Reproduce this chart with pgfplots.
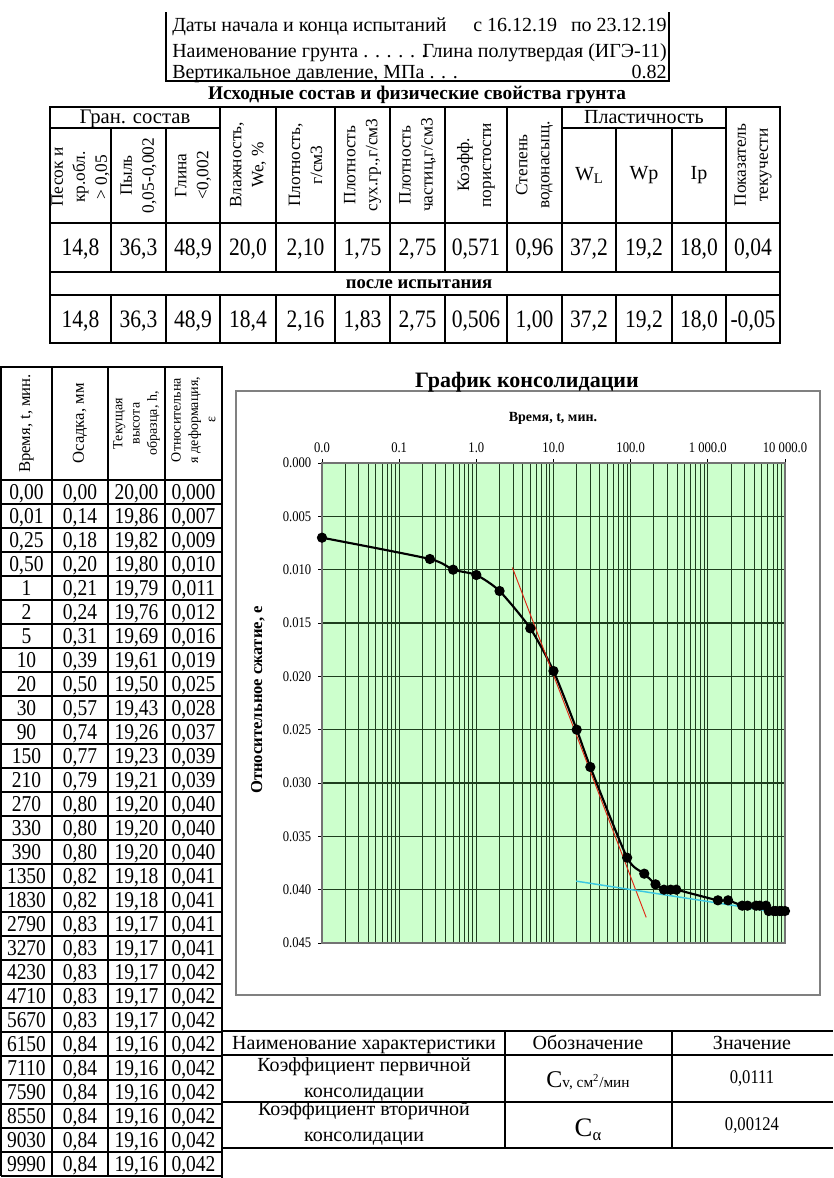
\documentclass[border=0pt]{standalone}
\usepackage{pgfplots}
\pgfplotsset{compat=1.18}
\usepackage{fontspec}
\setmainfont{Liberation Serif}
\newfontfamily\numf[FakeStretch=0.86]{Liberation Serif}
\definecolor{bgG}{RGB}{204,255,204}
\definecolor{gridG}{RGB}{30,62,30}
\definecolor{cyanL}{RGB}{60,200,225}
\definecolor{redL}{RGB}{225,40,20}
\newcommand{\fs}[2]{\fontsize{#1}{#2}\selectfont}
\begin{document}
\begin{tikzpicture}
\begin{scope}[x=0.75pt,y=-0.75pt]
\useasboundingbox (0,0) rectangle (833,1178);
% ---------- top box ----------
\draw[line width=1.5pt] (166,12) -- (166,81) -- (669,81) -- (669,12);
\begin{scope}[every node/.style={inner sep=0pt,font=\fs{15}{17}}]
\node[anchor=base west] at (172,31) {Даты начала и конца испытаний};
\node[anchor=base west] at (473,31) {с 16.12.19};
\node[anchor=base east] at (667,31) {по 23.12.19};
\node[anchor=base west] at (172,57) {Наименование грунта . . . . . .};
\node[anchor=base east] at (667,57) {Глина полутвердая (ИГЭ-11)};
\node[anchor=base west] at (172,78) {Вертикальное давление, МПа . . .};
\node[anchor=base east] at (667,78) {0.82};
\end{scope}
\node[anchor=base,inner sep=0pt,font=\bfseries\fs{14.5}{17}] at (417,99) {Исходные состав и физические свойства грунта};
% ---------- properties table ----------
\draw[line width=1.5pt] (50,107) rectangle (780,343);
\foreach \yy in {223,272,295} \draw[line width=1.1pt] (50,\yy) -- (780,\yy);
\draw[line width=1.1pt] (50,128) -- (220,128);
\draw[line width=1.1pt] (562,128) -- (726,128);
\foreach \xx in {111,166,616,672} {\draw[line width=1.1pt] (\xx,128) -- (\xx,272); \draw[line width=1.1pt] (\xx,295) -- (\xx,343);}
\foreach \xx in {220,276,335,390,445,507,562,726} {\draw[line width=1.1pt] (\xx,107) -- (\xx,272); \draw[line width=1.1pt] (\xx,295) -- (\xx,343);}
\node[anchor=base,inner sep=0pt,font=\fs{15.5}{17}] at (135,123) {Гран. состав};
\node[anchor=base,inner sep=0pt,font=\fs{15}{17}] at (644,123) {Пластичность};
\begin{scope}[every node/.style={rotate=90,align=center,inner sep=0pt,font=\fs{13}{16.5}}]
\begin{scope}\clip (50,129) rectangle (111,222);
\node at (80.5,177) {Песок и\\кр.обл.\\> 0,05};\end{scope}
\node at (138.5,175.5) {Пыль\\0,05-0,002};
\node at (193,175.5) {Глина\\<0,002};
\node at (248,165) {Влажность,\\We, \%};
\node at (305.5,165) {Плотность,\\г/см3};
\node at (362.5,165) {Плотность\\сух.гр.,г/см3};
\node at (417.5,165) {Плотность\\частиц,г/см3};
\node at (476,165) {Коэфф.\\пористости};
\node at (534.5,165) {Степень\\водонасыщ.};
\node at (753,165) {Показатель\\текучести};
\end{scope}
\node[inner sep=0pt,font=\fs{15}{17}] at (589,175.5) {W\raisebox{-2.5pt}{\fs{11}{11}L}};
\node[inner sep=0pt,font=\fs{15}{17}] at (644,175.5) {Wp};
\node[inner sep=0pt,font=\fs{15}{17}] at (699,175.5) {Ip};
\foreach \xx/\va/\vb in {80.5/14{,}8/14{,}8, 138.5/36{,}3/36{,}3, 193/48{,}9/48{,}9, 248/20{,}0/18{,}4, 305.5/2{,}10/2{,}16, 362.5/1{,}75/1{,}83, 417.5/2{,}75/2{,}75, 476/0{,}571/0{,}506, 534.5/0{,}96/1{,}00, 589/37{,}2/37{,}2, 644/19{,}2/19{,}2, 699/18{,}0/18{,}0, 753/0{,}04/-0{,}05}
{\node[anchor=base,inner sep=0pt,font=\numf\fs{18.8}{20}] at (\xx,255) {\va};
 \node[anchor=base,inner sep=0pt,font=\numf\fs{18.8}{20}] at (\xx,327) {\vb};}
\node[anchor=base,inner sep=0pt,font=\bfseries\fs{14}{15}] at (419,288.5) {после испытания};
% ---------- left table ----------
\draw[line width=1.5pt] (1,367) rectangle (222,480);
\foreach \xx in {52,108,165} \draw[line width=1.1pt] (\xx,367) -- (\xx,480);
\foreach \xx in {1,52,108,165} \draw[line width=0.9pt] (\xx,480) -- (\xx,1176);
\draw[line width=1.5pt] (222,480) -- (222,1178);
\foreach \k in {1,...,29} \draw[line width=0.8pt] (1,480+24*\k) -- (222,480+24*\k);
\node[rotate=90,inner sep=0pt,font=\fs{12.5}{14}] at (26.5,423.5) {Время, t, мин.};
\node[rotate=90,inner sep=0pt,font=\fs{12.5}{14}] at (80,423.5) {Осадка, мм};
\begin{scope}
\clip (108,368) rectangle (165,479);
\node[rotate=90,align=center,inner sep=0pt,font=\fs{10.5}{13}] at (136.5,423.5) {Текущая\\высота\\образца, h,};
\end{scope}
\begin{scope}
\clip (165,368) rectangle (222,479);
\node[rotate=90,align=center,inner sep=0pt,font=\fs{10.5}{13}] at (193.5,420) {Относительна\\я деформация,\\ε};
\end{scope}
\foreach \a/\b/\c/\d [count=\i from 0] in {
0{,}00/0{,}00/20{,}00/0{,}000, 0{,}01/0{,}14/19{,}86/0{,}007, 0{,}25/0{,}18/19{,}82/0{,}009,
0{,}50/0{,}20/19{,}80/0{,}010, 1/0{,}21/19{,}79/0{,}011, 2/0{,}24/19{,}76/0{,}012,
5/0{,}31/19{,}69/0{,}016, 10/0{,}39/19{,}61/0{,}019, 20/0{,}50/19{,}50/0{,}025,
30/0{,}57/19{,}43/0{,}028, 90/0{,}74/19{,}26/0{,}037, 150/0{,}77/19{,}23/0{,}039,
210/0{,}79/19{,}21/0{,}039, 270/0{,}80/19{,}20/0{,}040, 330/0{,}80/19{,}20/0{,}040,
390/0{,}80/19{,}20/0{,}040, 1350/0{,}82/19{,}18/0{,}041, 1830/0{,}82/19{,}18/0{,}041,
2790/0{,}83/19{,}17/0{,}041, 3270/0{,}83/19{,}17/0{,}041, 4230/0{,}83/19{,}17/0{,}042,
4710/0{,}83/19{,}17/0{,}042, 5670/0{,}83/19{,}17/0{,}042, 6150/0{,}84/19{,}16/0{,}042,
7110/0{,}84/19{,}16/0{,}042, 7590/0{,}84/19{,}16/0{,}042, 8550/0{,}84/19{,}16/0{,}042,
9030/0{,}84/19{,}16/0{,}042, 9990/0{,}84/19{,}16/0{,}042}
{
\node[anchor=base,inner sep=0pt,font=\numf\fs{17}{18}] at (26.5,499+24*\i) {\a};
\node[anchor=base,inner sep=0pt,font=\numf\fs{17}{18}] at (80,499+24*\i) {\b};
\node[anchor=base,inner sep=0pt,font=\numf\fs{17}{18}] at (136.5,499+24*\i) {\c};
\node[anchor=base,inner sep=0pt,font=\numf\fs{17}{18}] at (193.5,499+24*\i) {\d};
}
% ---------- chart frame and labels ----------
\draw[black!50, line width=0.9pt] (236,391) rectangle (820,995);
\node[anchor=base,inner sep=0pt,font=\bfseries\fs{16.5}{18}] at (527,387) {График консолидации};
\node[inner sep=0pt,font=\bfseries\fs{10.5}{12}] at (553,418) {Время, t, мин.};
\node[rotate=90,inner sep=0pt,font=\bfseries\fs{12.5}{14}] at (258,700) {Относительное сжатие, е};
% ---------- bottom table ----------
\draw[line width=1.5pt] (222,1031) -- (833,1031);
\draw[line width=1.0pt] (222,1055) -- (833,1055);
\draw[line width=1.0pt] (222,1102) -- (833,1102);
\draw[line width=1.3pt] (222,1148) -- (833,1148);
\draw[line width=1.2pt] (505,1031) -- (505,1148);
\draw[line width=1.2pt] (672,1031) -- (672,1148);
\begin{scope}[every node/.style={inner sep=0pt,font=\fs{15}{16},anchor=base}]
\node at (364,1049) {Наименование характеристики};
\node at (588,1049) {Обозначение};
\node at (752,1049) {Значение};
\node at (364,1071) {Коэффициент первичной};
\node at (364,1097) {консолидации};
\node at (364,1115) {Коэффициент вторичной};
\node at (364,1141) {консолидации};
\end{scope}
\node[anchor=base,inner sep=0pt] at (588,1087) {{\fs{18}{18}С}{\fs{11.5}{12}v, см\textsuperscript{2}/мин}};
\node[anchor=base,inner sep=0pt] at (588,1136) {{\fs{20}{20}С}\raisebox{-3pt}{\fs{12.5}{12}α}};
\node[anchor=base,inner sep=0pt,font=\numf\fs{14.5}{15}] at (752,1083) {0,0111};
\node[anchor=base,inner sep=0pt,font=\numf\fs{14.5}{15}] at (752,1130) {0,00124};
\end{scope}
% ---------- consolidation plot ----------
\begin{axis}[
  at={(241.5pt,-347.25pt)}, anchor=north west,
  scale only axis, width=347.25pt, height=360pt,
  xmode=log, xmin=0.01, xmax=10000,
  ymin=0, ymax=0.045, y dir=reverse,
  xtick={0.01,0.1,1,10,100,1000,10000},
  xticklabels={0.0,0.1,1.0,10.0,100.0,1 000.0,10 000.0},
  minor xtick={0.02,0.03,0.04,0.05,0.06,0.07,0.08,0.09,0.2,0.3,0.4,0.5,0.6,0.7,0.8,0.9,2,3,4,5,6,7,8,9,20,30,40,50,60,70,80,90,200,300,400,500,600,700,800,900,2000,3000,4000,5000,6000,7000,8000,9000},
  ytick={0,0.005,0.01,0.015,0.02,0.025,0.03,0.035,0.04,0.045},
  scaled y ticks=false,
  xticklabel pos=right, xtick pos=right,
  ytick pos=left,
  /pgf/number format/fixed,
  /pgf/number format/fixed zerofill,
  /pgf/number format/precision=3,
  /pgf/number format/assume math mode=true,
  tick label style={font=\numf\fs{11}{12}, black},
  xticklabel style={yshift=1.5pt},
  yticklabel style={xshift=-1.5pt},
  xmajorgrids, xminorgrids, ymajorgrids,
  major grid style={draw=gridG, line width=0.8pt},
  minor grid style={draw=gridG, line width=0.75pt},
  axis background/.style={fill=bgG},
  axis line style={draw=black!55, line width=0.8pt},
  tick align=outside, major tick length=3pt, minor tick length=0pt,
  tick style={black, line width=0.6pt},
]
\addplot[black, line width=1.6pt, smooth, tension=0.4, mark=*, mark size=3pt, mark options={fill=black}] coordinates {
(0.01,0.007) (0.25,0.009) (0.5,0.010) (1,0.0105) (2,0.012) (5,0.0155) (10,0.0195)
(20,0.025) (30,0.0285) (90,0.037) (150,0.0385) (210,0.0395) (270,0.040) (330,0.040)
(390,0.040) (1350,0.041) (1830,0.041) (2790,0.0415) (3270,0.0415) (4230,0.0415)
(4710,0.0415) (5670,0.0415) (6150,0.042) (7110,0.042) (7590,0.042) (8550,0.042)
(9030,0.042) (9990,0.042)};
\addplot[redL, line width=0.7pt] coordinates {(2.93,0.0098) (159,0.0426)};
\addplot[cyanL, line width=1.1pt] coordinates {(19.7,0.0392) (9500,0.0422)};
\end{axis}
\end{tikzpicture}
\end{document}
